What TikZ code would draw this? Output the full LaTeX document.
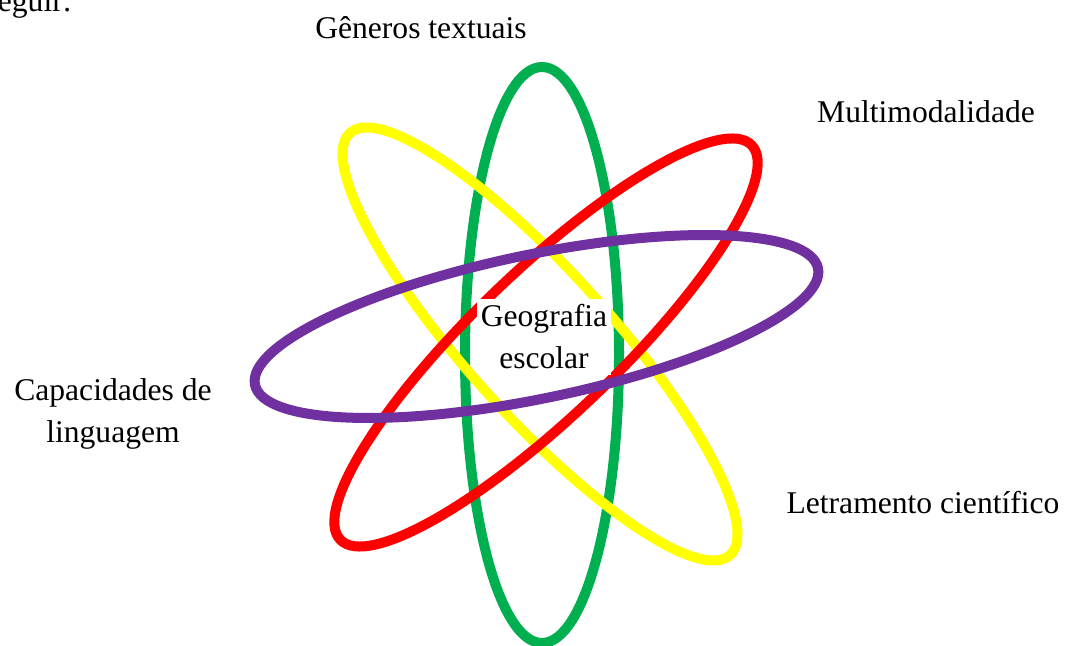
\documentclass[tikz,border=0pt]{standalone}
\usepackage{fontspec}
\setmainfont{Liberation Serif}
\definecolor{ringgreen}{HTML}{00B050}
\definecolor{ringyellow}{HTML}{FFFF00}
\definecolor{ringred}{HTML}{FF0000}
\definecolor{ringpurple}{HTML}{7030A0}
\tikzset{
  ring/.style={line width=5pt},
  lbl/.style={font=\fontsize{15.8}{21}\selectfont, inner sep=0pt}
}
\begin{document}
\begin{tikzpicture}[x=0.5pt,y=-0.5pt]
\useasboundingbox (0,0) rectangle (1065,646);

\draw[ring,ringgreen] (542,355) ellipse [x radius=77, y radius=288];
\draw[ring,ringyellow,rotate around={-48:(540,344)}] (540,344) ellipse [x radius=284, y radius=72];
\draw[ring,ringred,rotate around={43.8:(546,342.5)}] (546,342.5) ellipse [x radius=285, y radius=72];
\draw[ring,ringpurple,rotate around={11.7:(536.5,326.5)}] (536.5,326.5) ellipse [x radius=287.5, y radius=72];

\node[lbl,fill=white,inner xsep=2pt,inner ysep=3pt,align=center] (geo) at (544,337) {Geografia\\escolar};

\node[lbl,anchor=base east] (seguir) at (72,12) {seguir:};
\node[lbl,anchor=base] (genre) at (421,39) {Gêneros textuais};
\node[lbl,anchor=base] (multi) at (926,123) {Multimodalidade};
\node[lbl,align=center] (capac) at (113,414) {Capacidades de\\linguagem};
\node[lbl,anchor=base] (letra) at (923,513) {Letramento científico};
\end{tikzpicture}
\end{document}
